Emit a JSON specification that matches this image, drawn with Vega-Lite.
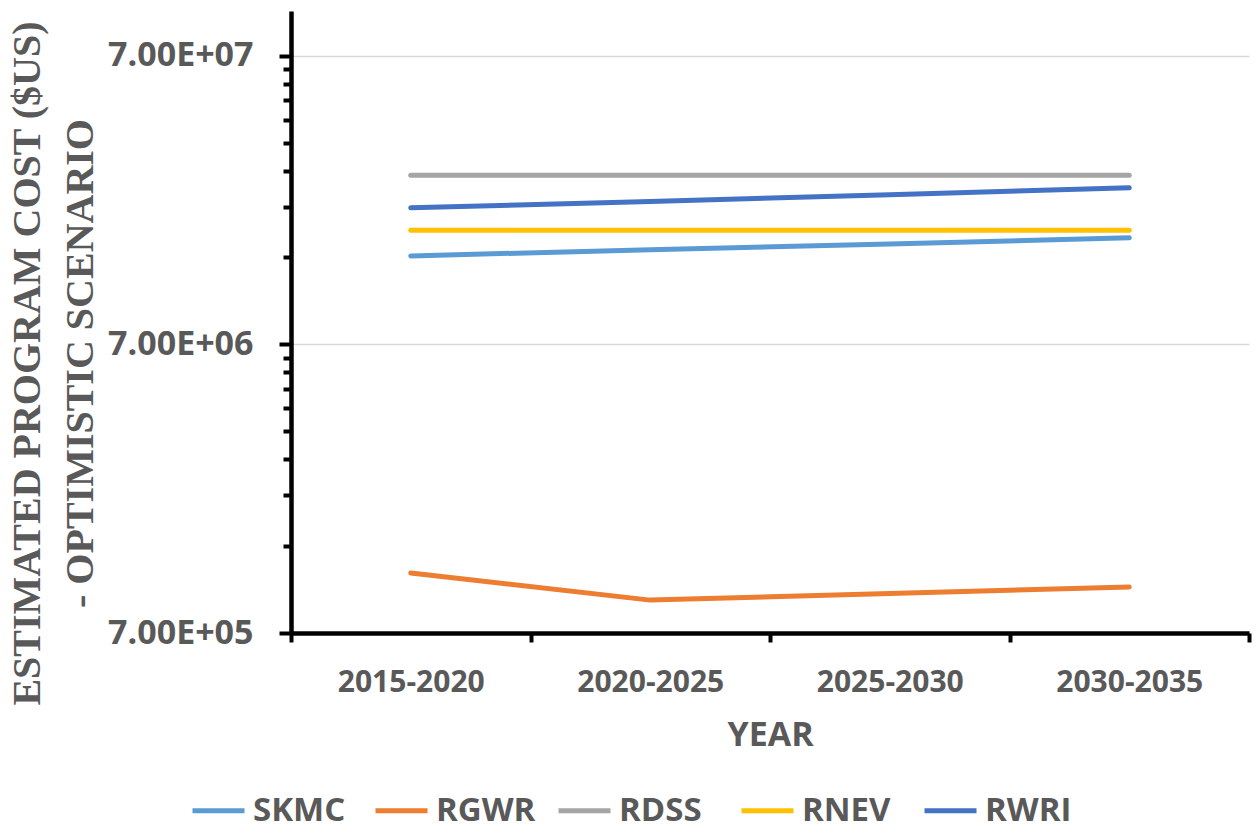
{
  "$schema": "https://vega.github.io/schema/vega-lite/v6.json",
  "autosize": {"type": "none"},
  "padding": {"left": 291, "top": 11, "right": 8, "bottom": 200},
  "width": 958,
  "height": 622,
  "background": "white",
  "config": {
    "view": {"stroke": null},
    "font": "Open Sans"
  },
  "data": {
    "values": [
      {"period": "2015-2020", "series": "SKMC", "cost": 14170000},
      {"period": "2020-2025", "series": "SKMC", "cost": 14900000},
      {"period": "2025-2030", "series": "SKMC", "cost": 15600000},
      {"period": "2030-2035", "series": "SKMC", "cost": 16370000},
      {"period": "2015-2020", "series": "RGWR", "cost": 1130000},
      {"period": "2020-2025", "series": "RGWR", "cost": 910000},
      {"period": "2025-2030", "series": "RGWR", "cost": 960000},
      {"period": "2030-2035", "series": "RGWR", "cost": 1010000},
      {"period": "2015-2020", "series": "RDSS", "cost": 27000000},
      {"period": "2020-2025", "series": "RDSS", "cost": 27000000},
      {"period": "2025-2030", "series": "RDSS", "cost": 27000000},
      {"period": "2030-2035", "series": "RDSS", "cost": 27000000},
      {"period": "2015-2020", "series": "RNEV", "cost": 17400000},
      {"period": "2020-2025", "series": "RNEV", "cost": 17400000},
      {"period": "2025-2030", "series": "RNEV", "cost": 17400000},
      {"period": "2030-2035", "series": "RNEV", "cost": 17400000},
      {"period": "2015-2020", "series": "RWRI", "cost": 20800000},
      {"period": "2020-2025", "series": "RWRI", "cost": 21900000},
      {"period": "2025-2030", "series": "RWRI", "cost": 23100000},
      {"period": "2030-2035", "series": "RWRI", "cost": 24400000}
    ]
  },
  "encoding": {
    "x": {
      "field": "period",
      "type": "nominal",
      "sort": ["2015-2020", "2020-2025", "2025-2030", "2030-2035"],
      "scale": {"type": "band", "paddingInner": 0, "paddingOuter": 0},
      "axis": {
        "title": "YEAR",
        "labelAngle": 0,
        "labelFont": "Open Sans",
        "labelFontSize": 30,
        "labelFontWeight": "bold",
        "labelColor": "#595959",
        "labelBaseline": "alphabetic",
        "labelPadding": 49,
        "tickBand": "extent",
        "tickSize": 9,
        "tickWidth": 4,
        "tickColor": "black",
        "domainColor": "black",
        "domainWidth": 4.5,
        "grid": false,
        "titleFont": "Open Sans",
        "titleFontSize": 34,
        "titleFontWeight": "bold",
        "titleColor": "#595959",
        "titleBaseline": "alphabetic",
        "titleY": 112
      }
    },
    "color": {
      "field": "series",
      "type": "nominal",
      "scale": {
        "domain": ["SKMC", "RGWR", "RDSS", "RNEV", "RWRI"],
        "range": ["#5B9BD5", "#ED7D31", "#A5A5A5", "#FFC000", "#4472C4"]
      },
      "legend": {
        "title": null,
        "orient": "none",
        "legendX": -101,
        "legendY": 771,
        "direction": "horizontal",
        "columns": 5,
        "gridAlign": "all",
        "columnPadding": 12,
        "symbolType": "stroke",
        "symbolSize": 2704,
        "symbolStrokeWidth": 5,
        "labelFont": "Open Sans",
        "labelFontSize": 33,
        "labelFontWeight": "bold",
        "labelColor": "#595959",
        "labelOffset": 6,
        "labelLimit": 300
      }
    }
  },
  "layer": [
    {
      "mark": {"type": "line", "strokeWidth": 5, "strokeCap": "round", "strokeJoin": "round"},
      "encoding": {
        "y": {
          "field": "cost",
          "type": "quantitative",
          "scale": {"type": "log", "domain": [700000, 100000000], "nice": false},
          "axis": {
            "orient": "left",
            "values": [700000, 7000000, 70000000],
            "labelExpr": "'7.00E+0' + floor(log(datum.value) / LN10 + 1e-9)",
            "labelFont": "Open Sans",
            "labelFontSize": 34,
            "labelFontWeight": "bold",
            "labelColor": "#595959",
            "labelPadding": 26,
            "tickSize": 12,
            "tickWidth": 4,
            "tickColor": "black",
            "domainColor": "black",
            "domainWidth": 4.5,
            "grid": true,
            "gridColor": "#d9d9d9",
            "gridWidth": 1.5,
            "title": ["ESTIMATED PROGRAM COST ($US)", "- OPTIMISTIC SCENARIO"],
            "titleFont": "Liberation Serif",
            "titleFontSize": 40,
            "titleFontWeight": "bold",
            "titleColor": "#595959",
            "titleAngle": -90,
            "titleAlign": "center",
            "titleBaseline": "middle",
            "titleLineHeight": 53,
            "titleX": -264,
            "titleY": 352
          }
        }
      }
    },
    {
      "mark": {"type": "line", "strokeOpacity": 0},
      "encoding": {
        "y": {
          "field": "cost",
          "type": "quantitative",
          "scale": {"type": "log", "domain": [700000, 100000000], "nice": false},
          "axis": {
            "orient": "left",
            "values": [1400000, 2100000, 2800000, 3500000, 4200000, 4900000, 5600000, 6300000, 14000000, 21000000, 28000000, 35000000, 42000000, 49000000, 56000000, 63000000],
            "labels": false,
            "grid": false,
            "domain": false,
            "tickSize": 8,
            "tickWidth": 4,
            "tickColor": "black",
            "title": null
          }
        }
      }
    }
  ],
  "resolve": {"axis": {"y": "independent"}}
}
